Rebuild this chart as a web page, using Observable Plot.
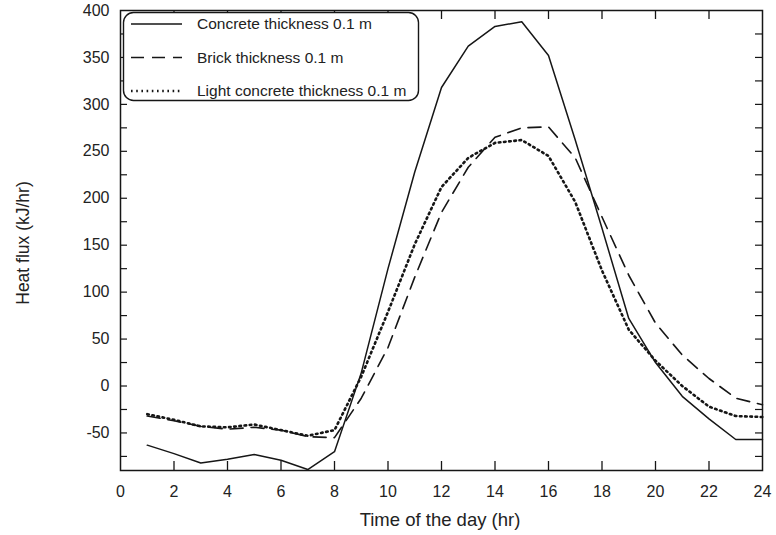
<!DOCTYPE html>
<html><head><meta charset="utf-8">
<script src="https://cdn.jsdelivr.net/npm/d3@7"></script>
<script src="https://cdn.jsdelivr.net/npm/@observablehq/plot@0.6"></script>
<style>
body{margin:0;background:#fff;}
#chart{width:776px;height:535px;}
</style></head><body><div id="chart"></div>
<script>
// Data (hourly heat flux, kJ/hr)
const hours = [1,2,3,4,5,6,7,8,9,10,11,12,13,14,15,16,17,18,19,20,21,22,23,24];
const concrete = [-63,-72,-82,-78,-73,-79,-89,-70,14,125,228,318,362,383,388,352,262,168,72,25,-11,-35,-57,-57];
const brick = [-32,-37,-43,-46,-44,-47,-54,-55,-13,41,116,185,233,265,275,276,243,180,118,67,33,8,-13,-20];
const lightConcrete = [-30,-36,-43,-44,-41,-47,-53,-47,10,79,151,212,243,259,262,245,196,123,60,27,0,-22,-32,-33];
const seriesNames = ["Concrete thickness 0.1 m","Brick thickness 0.1 m","Light concrete thickness 0.1 m"];
const xTicks = [0,2,4,6,8,10,12,14,16,18,20,22,24];
const yTicks = [-50,0,50,100,150,200,250,300,350,400];
const yMinorTicks = [-75,-50,-25,0,25,50,75,100,125,150,175,200,225,250,275,300,325,350,375];

const W = 776, H = 535, mL = 120, mR = 14, mT = 10, mB = 65;
const pw = W - mL - mR, ph = H - mT - mB;
const ink = "#161616";
const font = "'Liberation Sans', Arial, sans-serif";

const mk = (arr, name) => hours.map((h, i) => ({hour: h, flux: arr[i], series: name}));
const dConcrete = mk(concrete, seriesNames[0]);
const dBrick = mk(brick, seriesNames[1]);
const dLight = mk(lightConcrete, seriesNames[2]);

const styles = [
  {stroke: ink, strokeWidth: 1.5, strokeDasharray: null},
  {stroke: ink, strokeWidth: 1.6, strokeDasharray: "13,8"},
  {stroke: ink, strokeWidth: 2.6, strokeDasharray: "1.6,3.6"}
];

const chart = Plot.plot({
  width: W, height: H,
  marginLeft: mL, marginRight: mR, marginTop: mT, marginBottom: mB,
  style: {fontFamily: font, fontSize: "16px", color: "#222", background: "#fff"},
  x: {domain: [0, 24]},
  y: {domain: [-90, 400]},
  marks: [
    Plot.ruleX(xTicks.slice(1, -1), {stroke: ink, strokeWidth: 1.3, insetTop: ph - 9}),
    Plot.ruleX(xTicks.slice(1, -1), {stroke: ink, strokeWidth: 1.3, insetBottom: ph - 9}),
    Plot.ruleY(yMinorTicks, {stroke: ink, strokeWidth: 1.2, insetRight: pw - 7}),
    Plot.ruleY(yMinorTicks, {stroke: ink, strokeWidth: 1.2, insetLeft: pw - 7}),
    Plot.axisX({ticks: xTicks, tickSize: 0, tickPadding: 15, tickFormat: d => String(d), label: null}),
    Plot.axisY({ticks: yTicks, tickSize: 0, tickPadding: 11, tickFormat: d => String(d), label: null}),
    Plot.lineY(dConcrete, {x: "hour", y: "flux", ...styles[0]}),
    Plot.lineY(dBrick, {x: "hour", y: "flux", ...styles[1]}),
    Plot.lineY(dLight, {x: "hour", y: "flux", ...styles[2]}),
    Plot.frame({stroke: ink, strokeWidth: 1.5})
  ]
});
document.getElementById("chart").appendChild(chart);

const svg = d3.select(chart);
// Axis titles
svg.append("text").attr("x", 440).attr("y", 520).attr("dy", "0.35em")
  .attr("text-anchor", "middle").attr("font-family", font).attr("font-size", 18.5)
  .attr("fill", "#222").text("Time of the day (hr)");
svg.append("text").attr("transform", `translate(23,243) rotate(-90)`)
  .attr("dy", "0.35em").attr("text-anchor", "middle").attr("font-family", font)
  .attr("font-size", 17.5).attr("fill", "#222").text("Heat flux (kJ/hr)");

// Legend box drawn on top of the plot (upper left, rounded corners)
const lg = svg.append("g").attr("font-family", font).attr("text-anchor", "start");
lg.append("rect").attr("x", 123.5).attr("y", 12.5).attr("width", 295).attr("height", 88)
  .attr("rx", 10).attr("fill", "#fff").attr("stroke", ink).attr("stroke-width", 1.4);
seriesNames.forEach((name, i) => {
  const y = 24 + i * 33.5;
  lg.append("line").attr("x1", 131).attr("x2", 182).attr("y1", y).attr("y2", y)
    .attr("stroke", styles[i].stroke).attr("stroke-width", styles[i].strokeWidth)
    .attr("stroke-dasharray", styles[i].strokeDasharray);
  lg.append("text").attr("x", 197).attr("y", y).attr("dy", "0.35em")
    .attr("font-size", 15.5).attr("fill", "#222").text(name);
});
</script>
</body></html>
